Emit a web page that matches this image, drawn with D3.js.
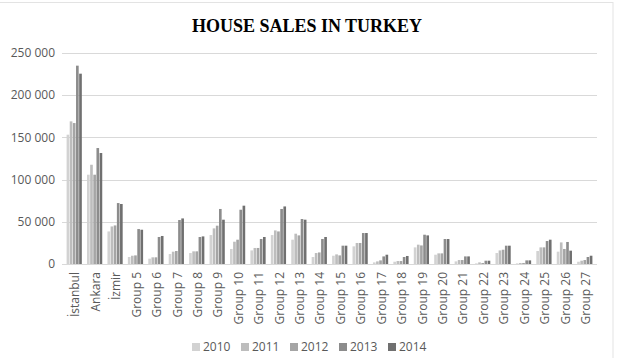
<!DOCTYPE html>
<html>
<head>
<meta charset="utf-8">
<script src="https://cdn.jsdelivr.net/npm/d3@7"></script>
<style>
  body { margin: 0; background: #fff; }
  svg { display: block; }
</style>
</head>
<body>
<script>
// data
var cities = ["İstanbul", "Ankara", "İzmir", "Group 5", "Group 6", "Group 7", "Group 8", "Group 9",
  "Group 10", "Group 11", "Group 12", "Group 13", "Group 14", "Group 15", "Group 16", "Group 17",
  "Group 18", "Group 19", "Group 20", "Group 21", "Group 22", "Group 23", "Group 24", "Group 25",
  "Group 26", "Group 27"];
var years = ["2010", "2011", "2012", "2013", "2014"];

var sales2010 = [153200, 105800, 38600, 8300, 6300, 11800, 13000, 34300, 17800, 16100, 34300, 28800, 8300,
  9800, 20900, 1900, 2700, 19700, 11000, 3100, 700, 13000, 700, 15400, 14600, 2700];
var sales2011 = [169000, 117600, 44500, 9800, 7900, 14600, 15000, 42200, 26400, 19000, 39800, 35900, 13000,
  11400, 24900, 3100, 3500, 22900, 12600, 4700, 1900, 16100, 1200, 19700, 25600, 3900];
var sales2012 = [167000, 105800, 45700, 10200, 7900, 15400, 15000, 45400, 28800, 19000, 38600, 33900, 13700,
  10200, 24900, 4300, 3500, 22000, 12600, 4700, 1200, 16900, 1200, 19700, 17800, 4700];
var sales2013 = [235000, 137400, 72200, 41400, 32000, 52100, 32000, 65200, 64300, 29600, 65200, 53300, 29600,
  21700, 36700, 9000, 8300, 34700, 29600, 9000, 3900, 21700, 4300, 27200, 26100, 8300];
var sales2014 = [225500, 131500, 71100, 40600, 33200, 54000, 32700, 52500, 69100, 32000, 68200, 52500, 32000,
  21700, 36700, 11000, 9500, 33900, 29600, 9000, 3900, 21700, 4300, 28800, 15800, 9800];

var yTicks = [0, 50000, 100000, 150000, 200000, 250000];
var colors = ["#d2d2d2", "#bdbdbd", "#a5a5a5", "#8c8c8c", "#707070"];

var series = [sales2010, sales2011, sales2012, sales2013, sales2014];

var W = 617, H = 358;
var margin = {top: 53, right: 22, bottom: 94, left: 64};
var width = W - margin.left - margin.right,
    height = H - margin.top - margin.bottom;

var svg = d3.select("body").append("svg")
    .attr("width", W)
    .attr("height", H);

// outer frame
svg.append("rect")
    .attr("x", -2).attr("y", 2.5)
    .attr("width", 615).attr("height", 370)
    .attr("fill", "none")
    .attr("stroke", "#e3e3e3");

svg.append("text")
    .attr("x", 307)
    .attr("y", 32)
    .attr("text-anchor", "middle")
    .style("font-family", "'Liberation Serif', 'Times New Roman', serif")
    .style("font-weight", "bold")
    .style("font-size", "18px")
    .text("HOUSE SALES IN TURKEY");

var g = svg.append("g")
    .attr("transform", "translate(" + margin.left + "," + margin.top + ")");

var x0 = d3.scaleBand()
    .domain(cities)
    .range([0, width])
    .paddingInner(0.23)
    .paddingOuter(0.115);

var x1 = d3.scaleBand()
    .domain(years)
    .range([0, x0.bandwidth()]);

var y = d3.scaleLinear()
    .domain([0, 250000])
    .range([height, 0]);

// gridlines
g.append("g")
  .selectAll("line")
  .data(yTicks)
  .enter().append("line")
    .attr("x1", -2).attr("x2", width + 2)
    .attr("y1", d => Math.round(y(d)) + 0.5)
    .attr("y2", d => Math.round(y(d)) + 0.5)
    .attr("stroke", "#d9d9d9");

// y labels
var fmt = d => d === 0 ? "0" : d3.format(",")(d).replace(/,/g, " ");
g.append("g")
  .selectAll("text")
  .data(yTicks)
  .enter().append("text")
    .attr("x", -9)
    .attr("y", d => y(d))
    .attr("dy", "0.35em")
    .attr("text-anchor", "end")
    .style("font-family", "'Open Sans', sans-serif")
    .style("font-size", "12px")
    .attr("fill", "#595959")
    .text(fmt);

// bars
var groups = g.append("g")
  .selectAll("g")
  .data(cities)
  .enter().append("g")
    .attr("transform", d => "translate(" + x0(d) + ",0)");

groups.selectAll("rect")
  .data((d, i) => years.map((yr, j) => ({year: yr, value: series[j][i]})))
  .enter().append("rect")
    .attr("x", d => x1(d.year) + 0.25)
    .attr("width", x1.bandwidth() - 0.5)
    .attr("y", d => y(d.value))
    .attr("height", d => height - y(d.value))
    .attr("fill", (d, j) => colors[j]);

// x labels
g.append("g")
  .selectAll("text")
  .data(cities)
  .enter().append("text")
    .attr("transform", d => "translate(" + (x0(d) + x0.bandwidth() / 2 + 1) + "," + (height + 8) + ") rotate(-90)")
    .attr("dy", "0.35em")
    .attr("text-anchor", "end")
    .style("font-family", "'Open Sans', sans-serif")
    .style("font-size", "12px")
    .attr("fill", "#595959")
    .text(d => d);

// legend
var legend = svg.append("g")
  .selectAll("g")
  .data(years)
  .enter().append("g")
    .attr("transform", (d, i) => "translate(" + (192 + i * 49) + ",347)");

legend.append("rect")
    .attr("x", 0).attr("y", -4)
    .attr("width", 8).attr("height", 8)
    .attr("fill", (d, i) => colors[i]);

legend.append("text")
    .attr("x", 11)
    .attr("dy", "0.35em")
    .style("font-family", "'Open Sans', sans-serif")
    .style("font-size", "12px")
    .attr("fill", "#595959")
    .text(d => d);
</script>
</body>
</html>
